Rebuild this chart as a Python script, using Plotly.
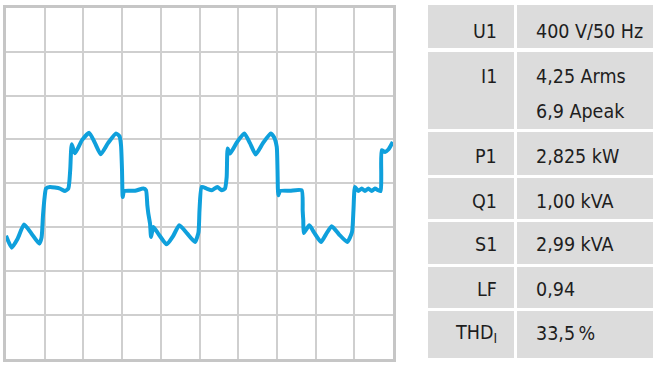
import plotly.graph_objects as go

# ---- waveform data (time in ms, current in A) ----
t_ms = [0.0, 0.74, 1.5, 2.33, 3.3, 4.30, 4.6, 4.78, 5.0, 5.17, 5.68, 6.98, 7.62, 8.05,
        8.20, 8.31, 8.49, 8.91, 9.82, 10.76, 11.5, 12.24, 13.18, 14.21, 14.66, 14.86,
        14.99, 15.08, 15.25, 16.67, 17.74, 18.09, 18.26, 18.39, 18.61, 18.74, 19.03,
        19.64, 20.76, 21.57, 22.39, 23.39, 24.42, 24.87, 25.0, 25.28, 25.93, 26.58,
        27.30, 27.87, 28.29, 28.51, 28.64, 28.94, 29.84, 30.79, 31.52, 32.26, 33.20,
        34.20, 34.63, 34.98, 35.08, 35.18, 35.40, 36.69, 38.2, 38.33, 38.36, 38.41,
        38.47, 39.19, 39.79, 40.70, 41.34, 42.08, 43.02, 44.09, 44.70, 44.89, 45.09,
        45.52, 45.96, 46.38, 46.81, 47.25, 47.67, 48.10, 48.41, 48.48, 48.54, 48.97,
        49.40, 49.97]
i_A = [-7.2, -8.82, -7.6, -5.66, -6.9, -8.27, -7.4, -4.39, -1.8, -0.73, -0.51, -0.73,
       -1.06, -0.73, 0.41, 2.06, 5.35, 4.11, 5.9, 6.90, 5.49, 3.98, 5.49, 6.82, 6.45,
       5.21, 1.78, -1.88, -1.06, -1.03, -0.73, -0.96, -3.02, -4.16, -5.53, -7.36, -5.99,
       -6.86, -8.37, -7.27, -5.76, -6.86, -8.05, -6.72, -3.70, -0.51, -0.73, -0.96,
       -0.51, -0.96, -0.73, 0.86, 4.76, 4.07, 5.62, 6.82, 5.49, 3.94, 5.49, 6.82, 6.31,
       4.98, 1.78, -1.65, -1.06, -1.03, -0.96, -3.70, -4.3, -5.07, -6.82, -5.76, -6.72,
       -8.05, -6.99, -5.90, -6.99, -8.05, -6.72, -3.70, -0.51, -1.06, -0.73, -1.06,
       -0.73, -1.06, -0.73, -0.96, -1.06, 1.10, 4.53, 4.29, 4.62, 5.66]

# ---- measurement table ----
labels = ["U1", "I1", "P1", "Q1", "S1", "LF", "THD<sub>I</sub>"]
values = ["400 V/50 Hz", "4,25 Arms<br>6,9 Apeak", "2,825 kW", "1,00 kVA",
          "2,99 kVA", "0,94", "33,5\u2009%"]

W, H = 660, 370


def px(x):
    return x / W


def py(y):
    return 1 - y / H


fig = go.Figure()
fig.add_trace(go.Scatter(x=t_ms, y=i_A, mode="lines",
                         line=dict(color="#0fa0dc", width=4, shape="spline", smoothing=0.5),
                         hoverinfo="skip", showlegend=False))

fig.update_layout(
    width=W, height=H, margin=dict(l=0, r=0, t=0, b=0),
    paper_bgcolor="white", plot_bgcolor="white",
    xaxis=dict(domain=[px(6), px(393)], range=[0, 50], dtick=5, tick0=0,
               showgrid=True, gridcolor="#cfcfcf", gridwidth=1.5,
               showline=True, linecolor="#c6c6c6", linewidth=2.5, mirror=True,
               showticklabels=False, ticks="", zeroline=False, fixedrange=True),
    yaxis=dict(domain=[py(358.5), py(8)], range=[-24, 24], dtick=6, tick0=0,
               showgrid=True, gridcolor="#cfcfcf", gridwidth=1.5,
               showline=True, linecolor="#c6c6c6", linewidth=2.5, mirror=True,
               showticklabels=False, ticks="", zeroline=False, fixedrange=True),
)

# table geometry (pixels)
rows = [(5, 48), (52, 129), (132, 175), (178, 219), (222, 264), (267, 308), (311, 358)]
label_y = [31, 76, 156, 201, 244, 289, 333]
col_l = (428, 514)
col_r = (517, 653)

shapes = []
annotations = []
font = dict(family="DejaVu Sans Condensed, Liberation Sans Narrow, Arial Narrow, sans-serif",
            size=19.5, color="#1e1e1e")
for k, (top, bot) in enumerate(rows):
    for (x0, x1) in (col_l, col_r):
        shapes.append(dict(type="rect", xref="paper", yref="paper",
                           x0=px(x0), x1=px(x1), y0=py(bot), y1=py(top),
                           fillcolor="#dcdcdc", line=dict(width=0), layer="below"))
    annotations.append(dict(xref="paper", yref="paper", x=px(499), y=py(label_y[k]),
                            xanchor="right", yanchor="middle", text=labels[k],
                            showarrow=False, font=font))
    if "<br>" in values[k]:
        parts = values[k].split("<br>")
        for j, p in enumerate(parts):
            annotations.append(dict(xref="paper", yref="paper", x=px(534),
                                    y=py(label_y[k] + 35 * j),
                                    xanchor="left", yanchor="middle", text=p,
                                    showarrow=False, font=font))
    else:
        annotations.append(dict(xref="paper", yref="paper", x=px(534), y=py(label_y[k]),
                                xanchor="left", yanchor="middle", text=values[k],
                                showarrow=False, font=font))

fig.update_layout(shapes=shapes, annotations=annotations)
fig.write_html("out.html")
